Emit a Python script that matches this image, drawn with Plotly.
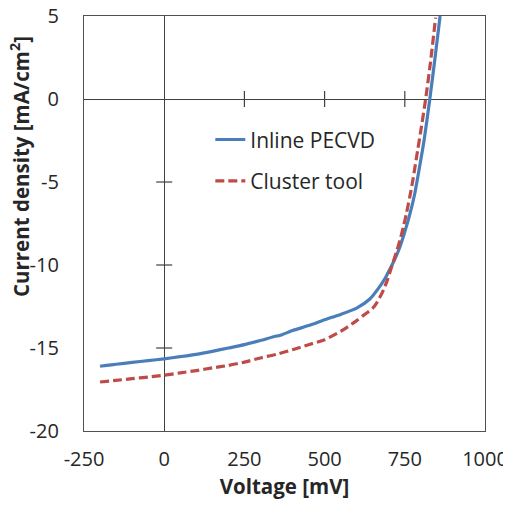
import plotly.graph_objects as go

# ---- data ----
inline_v = [-200, -180, -150, -100, -50, 0, 50, 100, 150, 200, 250, 300, 350, 360, 400, 450,
            500, 550, 600, 641, 670, 690, 705, 720, 735, 750, 765, 780, 795, 810, 828, 845, 860]
inline_j = [-16.1, -16.05, -15.98, -15.87, -15.76, -15.65, -15.52, -15.38, -15.2, -15.0, -14.8,
            -14.55, -14.28, -14.25, -13.95, -13.65, -13.3, -12.98, -12.6, -12.05, -11.35, -10.75,
            -10.2, -9.6, -8.9, -8.0, -7.0, -5.8, -4.2, -2.5, 0.0, 2.6, 5.0]

cluster_v = [-200, -150, -100, -50, 0, 50, 100, 150, 200, 250, 300, 350, 400, 450, 500, 550,
             600, 620, 650, 665, 680, 694, 705, 714, 725, 735, 745, 755, 766, 775, 790, 800,
             815, 830, 846]
cluster_j = [-17.05, -16.95, -16.85, -16.75, -16.64, -16.5, -16.36, -16.2, -16.05, -15.85,
             -15.6, -15.38, -15.1, -14.8, -14.5, -14.0, -13.35, -13.05, -12.6, -12.2, -11.65,
             -11.0, -10.35, -9.8, -9.15, -8.5, -7.75, -6.9, -5.85, -4.9, -3.1, -1.9,
             0.0, 2.2, 4.9]

x_ticks = [-250, 0, 250, 500, 750, 1000]
x_tick_text = ["-250", "0", "250", "500", "750", "1000"]
y_ticks = [-20, -15, -10, -5, 0, 5]
y_tick_text = ["-20", "-15", "-10", "-5", "0", "5"]
x_cross_ticks = [250, 500, 750]
y_cross_ticks = [-15, -10, -5]

FONT = "Open Sans"
TXT = "#262626"
BLUE = "#4a7ebb"
RED = "#be4b48"

fig = go.Figure()
fig.add_trace(go.Scatter(x=inline_v, y=inline_j, mode="lines", name="Inline PECVD",
                         legendgroup="a", line=dict(color=BLUE, width=3.2, shape="spline",
                                                    smoothing=0.6)))
fig.add_trace(go.Scatter(x=cluster_v, y=cluster_j, mode="lines", name="Cluster tool",
                         legendgroup="b", line=dict(color=RED, width=3.2, dash="9px,4px",
                                                    shape="spline", smoothing=0.6)))

shapes = []
for t in x_cross_ticks:
    shapes.append(dict(type="line", xref="x", yref="y", x0=t, x1=t,
                       ysizemode="pixel", yanchor=0, y0=-8, y1=8,
                       line=dict(color="#404040", width=1.2)))
for t in y_cross_ticks:
    shapes.append(dict(type="line", xref="x", yref="y", y0=t, y1=t,
                       xsizemode="pixel", xanchor=0, x0=-8, x1=8,
                       line=dict(color="#404040", width=1.2)))

# page body adds an 8px margin, so the figure is shifted; margins compensate
fig.update_layout(
    width=511, height=514,
    margin=dict(l=76, r=34, t=8, b=91, autoexpand=False),
    paper_bgcolor="white", plot_bgcolor="white",
    font=dict(family=FONT, size=20, color=TXT),
    shapes=shapes,
    showlegend=True,
    legend=dict(x=0.315, y=0.751, xanchor="left", yanchor="top",
                bgcolor="rgba(0,0,0,0)", font=dict(family=FONT, size=21, color=TXT),
                tracegroupgap=11),
    annotations=[dict(text="<b>Current density [mA/cm<sup>2</sup>]</b>", textangle=-90,
                      xref="paper", yref="paper", x=0, y=0.636, xshift=-64,
                      xanchor="center", yanchor="middle",
                      showarrow=False, font=dict(family=FONT, size=20.5, color=TXT))],
)
fig.update_xaxes(range=[-250, 1000], tickvals=x_ticks, ticktext=x_tick_text, ticks="",
                 showgrid=False, automargin=False, ticklabeloverflow="allow",
                 showline=True, mirror=True, linecolor="#505050", linewidth=1.2,
                 zeroline=True, zerolinecolor="#404040", zerolinewidth=1.2,
                 ticklabelstandoff=10,
                 title=dict(text="<b>Voltage [mV]</b>", font=dict(family=FONT, size=20.5, color=TXT),
                            standoff=8))
fig.update_yaxes(range=[-20, 5], tickvals=y_ticks, ticktext=y_tick_text, ticks="",
                 showgrid=False, automargin=False, ticklabeloverflow="allow",
                 showline=True, mirror=True, linecolor="#505050", linewidth=1.2,
                 zeroline=True, zerolinecolor="#404040", zerolinewidth=1.2,
                 ticklabelstandoff=20)

fig.write_html("out.html")
